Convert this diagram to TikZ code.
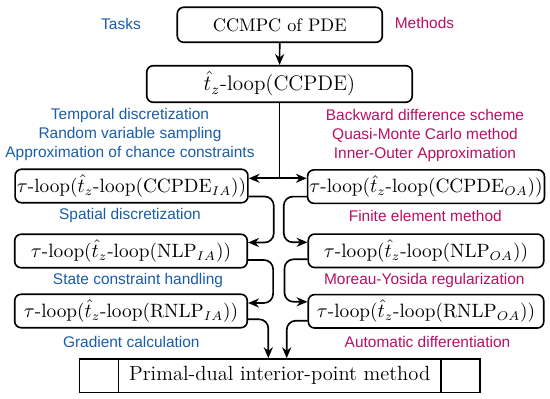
\documentclass[tikz,border=0pt]{standalone}
\usepackage{fontspec}
\usepackage{amsmath}
\setsansfont{Liberation Sans}
\definecolor{taskblue}{RGB}{25, 92, 172}
\definecolor{methodred}{RGB}{185, 15, 100}
\usetikzlibrary{arrows.meta, positioning, calc}

\begin{document}
\begin{tikzpicture}[x=0.55pt, y=-0.55pt,
                    loopbox/.style={draw, line width=0.9pt, rounded corners=3.5pt, inner sep=1pt,
                                    minimum height=18.4pt, font=\fontsize{10.6}{12}\selectfont},
                    taskitem/.style={text=taskblue, align=center, font=\sffamily\fontsize{8.5}{10.3}\selectfont},
                    methoditem/.style={text=methodred, align=center, font=\sffamily\fontsize{8.5}{10.3}\selectfont},
                    arr/.style={-{Stealth[length=6pt, width=5pt]}, line width=0.9pt},
                    hookarr/.style={arr, rounded corners=5pt}]
                    \useasboundingbox (0, 0) rectangle (550, 399);
                    \node[loopbox, minimum width=112.75pt, minimum height=19.25pt, font=\fontsize{10}{12}\selectfont] (ccmpc) at (279.8, 24.8) {CCMPC of PDE};
                    \node[loopbox, minimum width=146pt, minimum height=20.1pt, font=\fontsize{11.6}{13}\selectfont] (tzloop) at (279.5, 84) {$\hat{t}_z$-loop(CCPDE)};
                    \node[taskitem] (tasks) at (121, 24) {Tasks};
                    \node[methoditem] (methods) at (424.5, 23) {Methods};
                    \node[taskitem] (tasksA) at (130, 134.5) {Temporal discretization\\Random variable sampling\\Approximation of chance constraints};
                    \node[methoditem] (methodsA) at (425, 135.3) {Backward difference scheme\\Quasi-Monte Carlo method\\Inner-Outer Approximation};
                    \node[loopbox, minimum width=127.9pt] (ccpdeIA) at (131.5, 186) {$\tau$-loop($\hat{t}_z$-loop(CCPDE$_{IA}$))};
                    \node[loopbox, minimum width=129.5pt] (ccpdeOA) at (426, 186.6) {$\tau$-loop($\hat{t}_z$-loop(CCPDE$_{OA}$))};
                    \node[taskitem] (tasksB) at (130, 216) {Spatial discretization};
                    \node[methoditem] (methodsB) at (425.3, 215.5) {Finite element method};
                    \node[loopbox, minimum width=127.9pt] (nlpIA) at (131, 251) {$\tau$-loop($\hat{t}_z$-loop(NLP$_{IA}$))};
                    \node[loopbox, minimum width=129.5pt] (nlpOA) at (426, 250.8) {$\tau$-loop($\hat{t}_z$-loop(NLP$_{OA}$))};
                    \node[taskitem] (tasksC) at (138, 280.5) {State constraint handling};
                    \node[methoditem] (methodsC) at (424.3, 280.5) {Moreau-Yosida regularization};
                    \node[loopbox, minimum width=127.9pt] (rnlpIA) at (131, 311) {$\tau$-loop($\hat{t}_z$-loop(RNLP$_{IA}$))};
                    \node[loopbox, minimum width=129.5pt] (rnlpOA) at (426, 311.3) {$\tau$-loop($\hat{t}_z$-loop(RNLP$_{OA}$))};
                    \node[taskitem] (tasksD) at (131.3, 341.7) {Gradient calculation};
                    \node[methoditem] (methodsD) at (427.5, 341.7) {Automatic differentiation};
                    \node[draw, line width=0.9pt, minimum width=220.4pt, minimum height=18.5pt, font=\fontsize{11.3}{13}\selectfont] (pdipm) at (279.7, 375.8) {Primal-dual interior-point method};
                    \draw[line width=0.9pt] ([xshift=22pt]pdipm.north west) -- ([xshift=22pt]pdipm.south west);
                    \draw[line width=0.9pt] ([xshift=-22pt]pdipm.north east) -- ([xshift=-22pt]pdipm.south east);
                    \coordinate (split) at (279.5, 178.3);
                    \draw[arr] (ccmpc) -- (tzloop);
                    \draw[line width=0.9pt] (tzloop.south) -- (split);
                    \draw[arr] (split) -- (split -| ccpdeIA.east);
                    \draw[arr] (split) -- (split -| ccpdeOA.west);
                    \draw[hookarr] ($(ccpdeIA.east)+(0,10.5)$) -- ++(25, 0) |- ($(nlpIA.east)+(0,-8.5)$);
                    \draw[hookarr] ($(ccpdeOA.west)+(0,10)$) -- ++(-23, 0) |- ($(nlpOA.west)+(0,-8.5)$);
                    \draw[hookarr] ($(nlpIA.east)+(0,9)$) -- ++(25, 0) |- ($(rnlpIA.east)+(0,-8)$);
                    \draw[hookarr] ($(nlpOA.west)+(0,8.5)$) -- ++(-23, 0) |- ($(rnlpOA.west)+(0,-9.5)$);
                    \draw[hookarr] ($(rnlpIA.east)+(0,8.3)$) -| ($(pdipm.north)+(-11.4,0)$);
                    \draw[hookarr] ($(rnlpOA.west)+(0,9.4)$) -| ($(pdipm.north)+(7,0)$);
                \end{tikzpicture}
\end{document}
